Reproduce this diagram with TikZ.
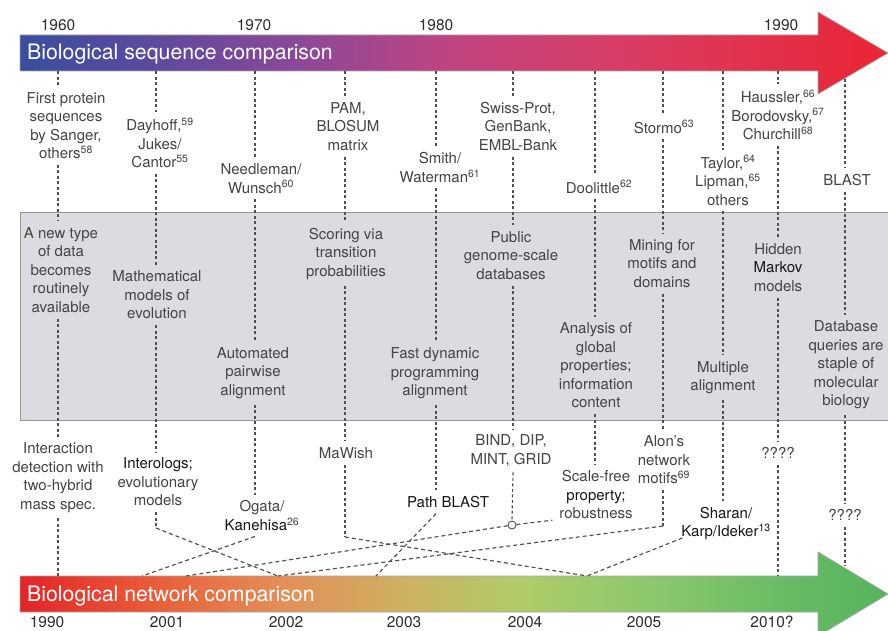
\documentclass[tikz,border=0pt]{standalone}
\usepackage{fontspec}
\setmainfont{TeX Gyre Heros}
\usetikzlibrary{calc}
\definecolor{txt}{RGB}{68,68,68}
\definecolor{dk}{RGB}{22,22,22}
\definecolor{yrc}{RGB}{45,45,45}
\definecolor{boxfill}{RGB}{219,219,224}
\definecolor{boxline}{RGB}{150,150,150}
\definecolor{dashc}{RGB}{80,80,80}
\definecolor{barline}{RGB}{165,165,165}
\definecolor{sA}{RGB}{56,78,158}
\definecolor{sB}{RGB}{92,74,158}
\definecolor{sC}{RGB}{140,72,152}
\definecolor{sD}{RGB}{192,68,128}
\definecolor{sE}{RGB}{214,62,104}
\definecolor{sF}{RGB}{226,50,78}
\definecolor{sG}{RGB}{234,36,52}
\definecolor{gA}{RGB}{227,36,40}
\definecolor{gB}{RGB}{232,92,56}
\definecolor{gC}{RGB}{228,142,88}
\definecolor{gD}{RGB}{206,176,96}
\definecolor{gE}{RGB}{176,204,104}
\definecolor{gF}{RGB}{140,200,108}
\definecolor{gG}{RGB}{100,186,100}
\definecolor{gH}{RGB}{86,180,92}
\pgfdeclarehorizontalshading{topgrad}{100bp}{color(0bp)=(sA); color(25bp)=(sA); color(32.5bp)=(sB); color(41.1bp)=(sC); color(49.8bp)=(sD); color(58.4bp)=(sE); color(67bp)=(sF); color(75bp)=(sG); color(100bp)=(sG)}
\pgfdeclarehorizontalshading{botgrad}{100bp}{color(0bp)=(gA); color(25bp)=(gA); color(32.5bp)=(gB); color(40bp)=(gC); color(46.9bp)=(gD); color(53.8bp)=(gE); color(61.3bp)=(gF); color(70bp)=(gG); color(75bp)=(gH); color(100bp)=(gH)}
\newcommand\lfont{\fontsize{15}{18.5}\selectfont}
\newcommand\rsup[1]{\textsuperscript{#1}}
\newcommand\dkt[1]{{\color{dk}#1}}
\begin{document}
\begin{tikzpicture}[x=1pt,y=-1pt,
  lab/.style={font=\lfont,text=txt,align=center,inner sep=0pt,outer sep=6pt},
  vl/.style={draw=dashc,line width=1.15pt,dash pattern=on 3pt off 2.5pt},
  dl/.style={draw=dashc,line width=1.15pt,dash pattern=on 4pt off 3pt},
  yr/.style={font=\fontsize{15.5}{18}\selectfont,text=yrc,inner sep=0pt},
  ttl/.style={font=\fontsize{21.3}{24}\selectfont,text=white,inner sep=0pt,anchor=west},
  bar/.style={draw=barline,line width=0.8pt}]
\useasboundingbox (0,0) rectangle (888,631);
\fill[white] (0,0) rectangle (888,631);

% bars and box
\shade[shading=topgrad,bar] (20,35) -- (818,35) -- (818,12) -- (888,53) -- (818,94) -- (818,71) -- (20,71) -- cycle;
\shade[shading=botgrad,bar] (20,576) -- (818,576) -- (818,552) -- (888,594) -- (818,636) -- (818,612) -- (20,612) -- cycle;
\draw[fill=boxfill,draw=boxline,line width=1pt] (20,212) rectangle (892,420);

\node[ttl] (ttop) at (27,54.5) {Biological sequence comparison};
\node[ttl] (tbot) at (27,596) {Biological network comparison};

% years
\node[yr] (y60) at (58,25) {1960};
\node[yr] (y70) at (254,25) {1970};
\node[yr] (y80) at (436,25) {1980};
\node[yr] (y90) at (781,25) {1990};
\node[yr] (z90) at (47,622) {1990};
\node[yr] (z01) at (167,622) {2001};
\node[yr] (z02) at (286,622) {2002};
\node[yr] (z03) at (404,622) {2003};
\node[yr] (z04) at (525,622) {2004};
\node[yr] (z05) at (644,622) {2005};
\node[yr] (z10) at (772,622) {2010?};

% reference coordinates
\coordinate (tbar) at (0,71.5);
\coordinate (hedge) at (0,79);
\coordinate (btop) at (0,212);
\coordinate (bbot) at (0,420);
\coordinate (bbar) at (0,576);
\coordinate (hbot) at (0,566);
\coordinate (c1) at (58,0);
\coordinate (c2) at (156,0);
\coordinate (c3) at (255,0);
\coordinate (c4) at (345,0);
\coordinate (c5) at (436,0);
\coordinate (c6) at (513,0);
\coordinate (c7) at (595,0);
\coordinate (c8) at (663,0);
\coordinate (c9) at (723,0);
\coordinate (c10) at (778,0);
\coordinate (c11) at (845,0);
\coordinate (e1) at (142,576);
\coordinate (e2) at (186,576);
\coordinate (e3) at (278,576);
\coordinate (e4) at (376,576);
\coordinate (e5) at (587,576);
\coordinate (k2) at (156,528);
\coordinate (k4) at (345,537);
\coordinate (k8) at (663,526);

% top labels
\node[lab] (T1) at (66,125.5) {First protein\\sequences\\by Sanger,\\others\rsup{58}};
\node[lab] (T2) at (160,143) {Dayhoff,\rsup{59}\\Jukes/\\Cantor\rsup{55}};
\node[lab] (T3) at (261,178.5) {Needleman/\\Wunsch\rsup{60}};
\node[lab] (T4) at (348,126.5) {PAM,\\BLOSUM\\matrix};
\node[lab] (T5) at (440,167.5) {Smith/\\Waterman\rsup{61}};
\node[lab] (T6) at (518,126.5) {Swiss-Prot,\\GenBank,\\EMBL-Bank};
\node[lab] (T7) at (599,187) {Doolittle\rsup{62}};
\node[lab] (T8) at (664,127) {Stormo\rsup{63}};
\node[lab] (T9) at (728,180.5) {Taylor,\rsup{64}\\Lipman,\rsup{65}\\others};
\node[lab] (T10) at (778,115) {Haussler,\rsup{66}\\Borodovsky,\rsup{67}\\Churchill\rsup{68}};
\node[lab] (T11) at (847,180) {BLAST};

% box labels
\node[lab] (B1) at (61,270) {A new type\\of data\\becomes\\routinely\\available};
\node[lab] (B2) at (157,295) {Mathematical\\models of\\evolution};
\node[lab] (B3) at (253,373) {Automated\\pairwise\\alignment};
\node[lab] (B4) at (346,254) {Scoring via\\transition\\probabilities};
\node[lab] (B5) at (435,373.5) {Fast dynamic\\programming\\alignment};
\node[lab] (B6) at (511,255.5) {Public\\genome-scale\\databases};
\node[lab] (B7) at (596,365.5) {Analysis of\\global\\properties;\\information\\content};
\node[lab] (B8) at (662,263.5) {Mining for\\motifs and\\domains};
\node[lab] (B9) at (723,377.5) {Multiple\\alignment};
\node[lab] (B10) at (778,267.5) {Hidden\\\dkt{Markov}\\models};
\node[lab] (B11) at (846,365) {Database\\queries are\\staple of\\molecular\\biology};

% bottom labels
\node[lab] (D1) at (58,477.5) {Interaction\\detection with\\two-hybrid\\mass spec.};
\node[lab] (D2) at (158,482) {\dkt{Interologs;}\\evolutionary\\models};
\node[lab] (D3) at (262,515.5) {Ogata/\\\dkt{Kanehisa}\rsup{26}};
\node[lab] (D4) at (346,453) {MaWish};
\node[lab,text=dk] (D5) at (448,502) {Path BLAST};
\node[lab] (D6) at (511,450.5) {BIND, DIP,\\MINT, GRID};
\node[lab] (D7) at (596,495) {Scale-free\\\dkt{property;}\\robustness};
\node[lab] (D8) at (664,460) {Alon’s\\network\\motifs\rsup{69}};
\node[lab,text=dk] (D9) at (726,523.5) {Sharan/\\Karp/Ideker\rsup{13}};
\node[lab] (D10) at (778,453) {????};
\node[lab] (D11) at (845,515) {????};
\node[circle,draw=dashc,fill=white,line width=0.9pt,minimum size=8pt,inner sep=0pt] (cir) at (512,525) {};

% vertical connectors through the top and the box
\foreach \c/\t/\b in {c1/T1/B1,c2/T2/B2,c3/T3/B3,c4/T4/B4,c5/T5/B5,c6/T6/B6,c7/T7/B7,c8/T8/B8,c9/T9/B9,c10/T10/B10}{
  \draw[vl] (\c |- tbar) -- (\c |- \t.north);
  \draw[vl] (\c |- \t.south) -- (\c |- \b.north);
}
\draw[vl] (c11 |- hedge) -- (c11 |- T11.north);
\draw[vl] (c11 |- T11.south) -- (c11 |- B11.north);
\foreach \c/\b/\d in {c1/B1/D1,c2/B2/D2,c3/B3/D3,c4/B4/D4,c5/B5/D5,c6/B6/D6,c7/B7/D7,c8/B8/D8,c9/B9/D9,c10/B10/D10,c11/B11/D11}{
  \draw[vl] (\c |- \b.south) -- (\c |- \d.north);
}

% bottom connectors
\draw[vl] (c1 |- D1.south) -- (c1 |- bbar);
\draw[vl] (c2 |- D2.south) -- (k2);
\draw[dl] (k2) -- (e3);
\draw[dl] (c3 |- D3.south) -- (e1);
\draw[vl] (c4 |- D4.south) -- (k4);
\draw[dl] (k4) -- (e5);
\draw[dl] (c5 |- D5.south) -- (e4);
\draw[vl] (c6 |- D6.south) -- (cir.north);
\draw[dl] (cir) -- ($(D7.south west)+(-1,-5)$);
\draw[dl] (cir) -- (e2);
\draw[vl] (c8 |- D8.south) -- (k8);
\draw[dl] (k8) -- (e3);
\draw[dl] ($(D9.south west)+(7,-8)$) -- (e5);
\draw[vl] (c10 |- D10.south) -- (c10 |- bbar);
\draw[vl] (c11 |- D11.south) -- (c11 |- hbot);
\end{tikzpicture}
\end{document}
